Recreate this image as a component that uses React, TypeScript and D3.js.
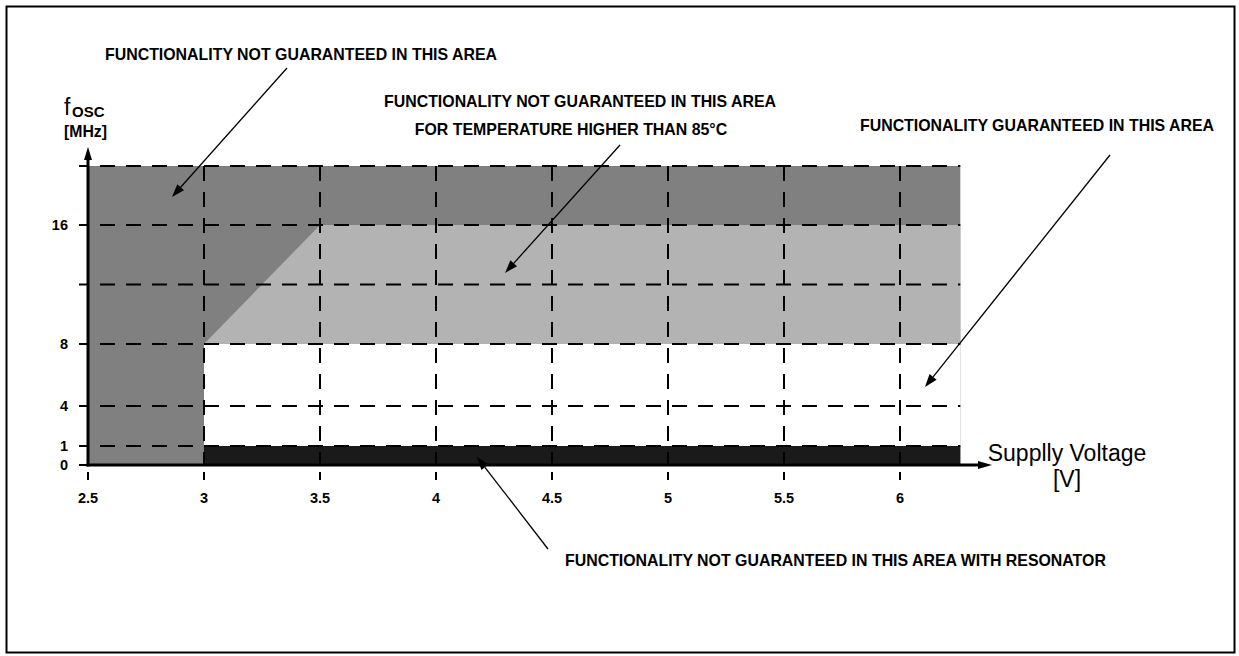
import React from "react";
import * as d3 from "d3";

// ---- data ----
const xTicks = [2.5, 3, 3.5, 4, 4.5, 5, 5.5, 6];
const yTickLabels = [0, 1, 4, 8, 16];
const yGridValues = [1, 4, 8, 12, 16, 20];
const vMin = 2.5;
const vMax = 6.26;
const fMax = 20;
const darkRegion: [number, number][] = [[2.5, 0], [vMax, 0], [vMax, fMax], [2.5, fMax]];
const lightRegion: [number, number][] = [[3, 8], [vMax, 8], [vMax, 16], [3.5, 16]];
const whiteRegion: [number, number][] = [[3, 1], [vMax, 1], [vMax, 8], [3, 8]];
const blackRegion: [number, number][] = [[3, 0], [vMax, 0], [vMax, 1], [3, 1]];

const W = 1239;
const H = 656;

const x = d3.scaleLinear().domain([2.5, 6]).range([88, 900]);
// schematic, non-uniform frequency axis
const y = d3.scaleLinear().domain([0, 1, 4, 8, 16, 20]).range([465, 446, 406, 344, 225, 166]);

const line = d3.line<[number, number]>().x((d) => x(d[0])).y((d) => y(d[1]));
const poly = (pts: [number, number][]) => line(pts) + "Z";

const BOLD = "'Liberation Sans', Arial, Helvetica, sans-serif";

function Arrow({ x1, y1, x2, y2 }: { x1: number; y1: number; x2: number; y2: number }) {
  const ang = Math.atan2(y2 - y1, x2 - x1);
  const L = 13, Wd = 4.5;
  const bx = x2 - L * Math.cos(ang), by = y2 - L * Math.sin(ang);
  const px = -Math.sin(ang) * Wd, py = Math.cos(ang) * Wd;
  return (
    <g>
      <line x1={x1} y1={y1} x2={bx} y2={by} stroke="#000" strokeWidth={1.3} />
      <path d={`M${x2},${y2}L${bx + px},${by + py}L${bx - px},${by - py}Z`} fill="#000" />
    </g>
  );
}

export default function App() {
  const x0 = x(vMin), x1 = x(vMax);
  const yTop = y(fMax), yBot = y(0);
  return (
    <svg width={W} height={H} style={{ position: "absolute", left: 0, top: 0 }} fontFamily={BOLD}>
      <rect x={0} y={0} width={W} height={H} fill="#fff" />
      <rect x={6.5} y={6.5} width={1228} height={646} fill="none" stroke="#000" strokeWidth={2} />

      {/* regions */}
      <path d={poly(darkRegion)} fill="#808080" />
      <path d={poly(lightRegion)} fill="#b3b3b3" />
      <path d={poly(whiteRegion)} fill="#ffffff" />
      <path d={poly(blackRegion)} fill="#1a1a1a" />

      {/* horizontal dashed grid */}
      {yGridValues.map((v) => (
        <g key={"h" + v}>
          <line x1={79} x2={87} y1={y(v)} y2={y(v)} stroke="#000" strokeWidth={2} />
          <line x1={100} x2={x1} y1={y(v)} y2={y(v)} stroke="#000" strokeWidth={2} strokeDasharray="15,11" />
        </g>
      ))}
      <line x1={79} x2={87} y1={yBot} y2={yBot} stroke="#000" strokeWidth={2} />

      {/* vertical dashed grid */}
      {xTicks.map((v) => (
        <g key={"v" + v}>
          {v > vMin && (
            <line x1={x(v)} x2={x(v)} y1={yTop} y2={yBot} stroke="#000" strokeWidth={2} strokeDasharray="15,11" />
          )}
          <line x1={x(v)} x2={x(v)} y1={472} y2={480} stroke="#000" strokeWidth={2} />
          <text x={x(v)} y={503} textAnchor="middle" fontSize={14.5} fontWeight="bold">
            {String(v)}
          </text>
        </g>
      ))}

      {/* y tick labels */}
      {yTickLabels.map((v) => (
        <text key={"yl" + v} x={68} y={y(v) + 5} textAnchor="end" fontSize={14.5} fontWeight="bold">
          {String(v)}
        </text>
      ))}

      {/* axes */}
      <line x1={x0} x2={x0} y1={yBot + 1.5} y2={158} stroke="#000" strokeWidth={3} />
      <path d={`M${x0},147L${x0 - 4},160L${x0 + 4},160Z`} fill="#000" />
      <line x1={x0 - 1.5} x2={980} y1={yBot} y2={yBot} stroke="#000" strokeWidth={3} />
      <path d={`M992,${yBot}L978,${yBot - 4}L978,${yBot + 4}Z`} fill="#000" />

      {/* axis titles */}
      <text x={64} y={115} fontSize={23}>f</text>
      <text x={72} y={117} fontSize={15} fontWeight="bold">OSC</text>
      <text x={64} y={137} fontSize={15.8} fontWeight="bold">[MHz]</text>
      <text x={1067} y={461} fontSize={23} textAnchor="middle">Supplly Voltage</text>
      <text x={1067} y={487} fontSize={23} textAnchor="middle">[V]</text>

      {/* annotations */}
      <g fontSize={15.9} fontWeight="bold">
        <text x={105} y={60}>FUNCTIONALITY NOT GUARANTEED IN THIS AREA</text>
        <text x={580} y={107} textAnchor="middle">FUNCTIONALITY NOT GUARANTEED IN THIS AREA</text>
        <text x={571} y={135} textAnchor="middle">FOR TEMPERATURE HIGHER THAN 85°C</text>
        <text x={1037} y={131} textAnchor="middle">FUNCTIONALITY GUARANTEED IN THIS AREA</text>
        <text x={565} y={566}>FUNCTIONALITY NOT GUARANTEED IN THIS AREA WITH RESONATOR</text>
      </g>

      <Arrow x1={287} y1={68} x2={172} y2={197} />
      <Arrow x1={620} y1={145} x2={505} y2={273} />
      <Arrow x1={1110} y1={155} x2={925} y2={387} />
      <Arrow x1={548} y1={549} x2={477} y2={457} />
    </svg>
  );
}
